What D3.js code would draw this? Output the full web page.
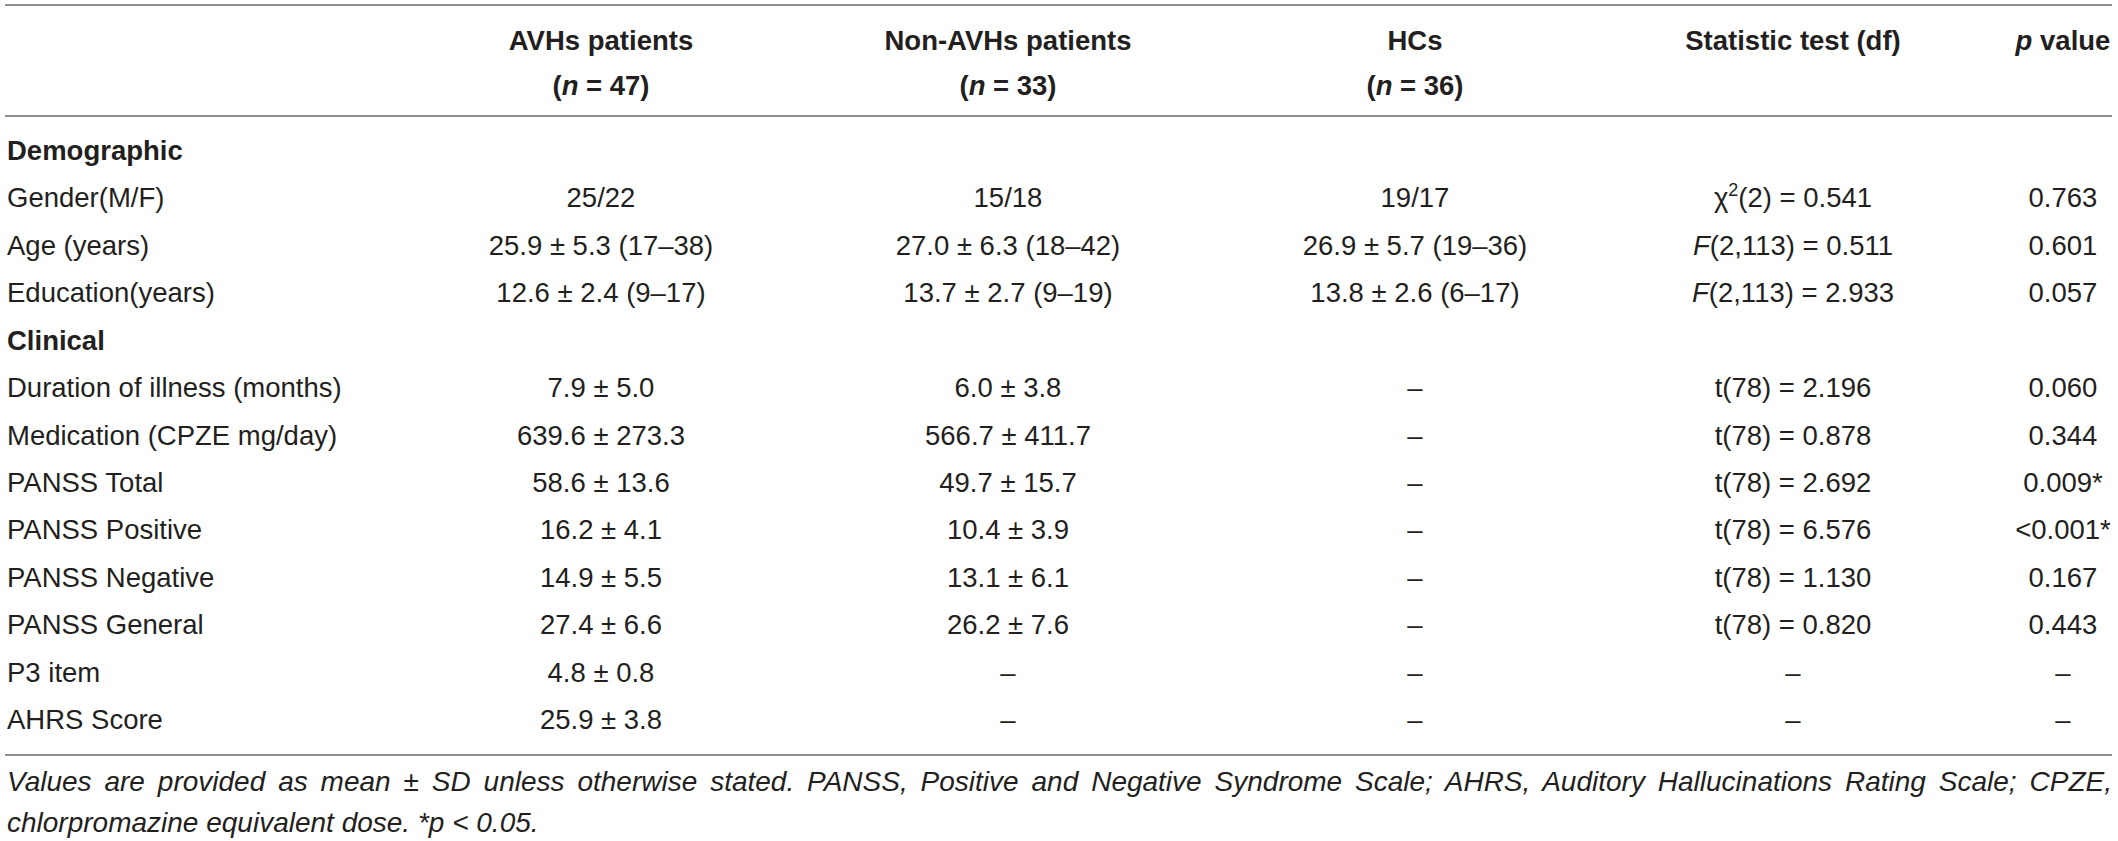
<!DOCTYPE html>
<html>
<head>
<meta charset="utf-8">
<script src="https://cdn.jsdelivr.net/npm/d3@7"></script>
<style>
  body { margin: 0; background: #fff; }
  svg { display: block; font-family: "Liberation Sans", Arial, sans-serif; }
  .cell { font-size: 27.5px; fill: #231f20; }
  .head { font-size: 27.5px; font-weight: bold; fill: #231f20; }
  .section { font-size: 27.5px; font-weight: bold; fill: #231f20; }
  .note { font-size: 28px; font-style: italic; fill: #231f20; }
  .rule { stroke: #8f8f8f; stroke-width: 2; }
</style>
</head>
<body>
<div id="table"></div>
<script>
// table content
const headers = ["AVHs patients", "Non-AVHs patients", "HCs", "Statistic test (df)", "p value"];
const groupN = [47, 33, 36, null, null];
const rowLabels = ["Demographic", "Gender(M/F)", "Age (years)", "Education(years)", "Clinical",
  "Duration of illness (months)", "Medication (CPZE mg/day)", "PANSS Total", "PANSS Positive",
  "PANSS Negative", "PANSS General", "P3 item", "AHRS Score"];
const sectionRows = ["Demographic", "Clinical"];
const avhs = ["", "25/22", "25.9 ± 5.3 (17–38)", "12.6 ± 2.4 (9–17)", "", "7.9 ± 5.0", "639.6 ± 273.3",
  "58.6 ± 13.6", "16.2 ± 4.1", "14.9 ± 5.5", "27.4 ± 6.6", "4.8 ± 0.8", "25.9 ± 3.8"];
const nonAvhs = ["", "15/18", "27.0 ± 6.3 (18–42)", "13.7 ± 2.7 (9–19)", "", "6.0 ± 3.8", "566.7 ± 411.7",
  "49.7 ± 15.7", "10.4 ± 3.9", "13.1 ± 6.1", "26.2 ± 7.6", "–", "–"];
const hcs = ["", "19/17", "26.9 ± 5.7 (19–36)", "13.8 ± 2.6 (6–17)", "", "–", "–", "–", "–", "–", "–", "–", "–"];
const statTest = ["", "χ2(2) = 0.541", "F(2,113) = 0.511", "F(2,113) = 2.933", "", "t(78) = 2.196",
  "t(78) = 0.878", "t(78) = 2.692", "t(78) = 6.576", "t(78) = 1.130", "t(78) = 0.820", "–", "–"];
const pValues = ["", "0.763", "0.601", "0.057", "", "0.060", "0.344", "0.009*", "<0.001*", "0.167",
  "0.443", "–", "–"];
const footnote = [
  "Values are provided as mean ± SD unless otherwise stated. PANSS, Positive and Negative Syndrome Scale; AHRS, Auditory Hallucinations Rating Scale; CPZE,",
  "chlorpromazine equivalent dose. *p < 0.05."
];

const width = 2118, height = 841;
const left = 7, right = 2112;

const svg = d3.select("#table")
  .append("svg")
  .attr("width", width)
  .attr("height", height);

// column centres
const xCol = d3.scaleOrdinal()
  .domain(headers)
  .range([601, 1008, 1415, 1793, 2063]);

// row positions (text baseline)
const yRow = d3.scaleLinear()
  .domain([0, rowLabels.length - 1])
  .range([160, 729]);

// horizontal rules
svg.selectAll("line.rule")
  .data([5, 116, 755])
  .join("line")
    .attr("class", "rule")
    .attr("x1", left - 2)
    .attr("x2", right)
    .attr("y1", d => d)
    .attr("y2", d => d);

// header, two lines
const head = svg.selectAll("text.head")
  .data(headers)
  .join("text")
    .attr("class", "head")
    .attr("text-anchor", "middle")
    .attr("x", d => xCol(d))
    .attr("y", 50);
head.each(function(d) {
  const t = d3.select(this);
  if (d === "p value") {
    t.append("tspan").attr("font-style", "italic").text("p");
    t.append("tspan").text(" value");
  } else {
    t.text(d);
  }
});

svg.selectAll("text.headn")
  .data(headers.filter((d, i) => groupN[i] !== null))
  .join("text")
    .attr("class", "head headn")
    .attr("text-anchor", "middle")
    .attr("x", d => xCol(d))
    .attr("y", 95)
    .each(function(d) {
      const t = d3.select(this);
      t.append("tspan").text("(");
      t.append("tspan").attr("font-style", "italic").text("n");
      t.append("tspan").text(" = " + groupN[headers.indexOf(d)] + ")");
    });

// row labels
svg.selectAll("text.label")
  .data(rowLabels)
  .join("text")
    .attr("class", d => sectionRows.includes(d) ? "section label" : "cell label")
    .attr("x", left)
    .attr("y", (d, i) => yRow(i))
    .text(d => d);

// plain value columns
const columns = [avhs, nonAvhs, hcs];
columns.forEach((col, c) => {
  svg.append("g")
    .selectAll("text")
    .data(col)
    .join("text")
      .attr("class", "cell")
      .attr("text-anchor", "middle")
      .attr("x", xCol(headers[c]))
      .attr("y", (d, i) => yRow(i))
      .text(d => d);
});

// statistic test column with italic F and superscript 2
svg.append("g")
  .selectAll("text")
  .data(statTest)
  .join("text")
    .attr("class", "cell")
    .attr("text-anchor", "middle")
    .attr("x", xCol(headers[3]))
    .attr("y", (d, i) => yRow(i))
    .each(function(d) {
      const t = d3.select(this);
      if (d.startsWith("F")) {
        t.append("tspan").attr("font-style", "italic").text("F");
        t.append("tspan").text(d.slice(1));
      } else if (d.startsWith("χ2")) {
        t.append("tspan").text("χ");
        t.append("tspan").attr("font-size", "18px").attr("dy", -11).text("2");
        t.append("tspan").attr("dy", 11).text(d.slice(2));
      } else {
        t.text(d);
      }
    });

// p value column
svg.append("g")
  .selectAll("text")
  .data(pValues)
  .join("text")
    .attr("class", "cell")
    .attr("text-anchor", "middle")
    .attr("x", xCol(headers[4]))
    .attr("y", (d, i) => yRow(i))
    .text(d => d);

// footnote, first line justified
const notes = svg.selectAll("text.note")
  .data(footnote)
  .join("text")
    .attr("class", "note")
    .attr("x", left)
    .attr("y", (d, i) => 791 + i * 41)
    .text(d => d);

notes.filter((d, i) => i === 0).each(function(d) {
  const len = this.getComputedTextLength();
  const gaps = d.split(" ").length - 1;
  d3.select(this).attr("word-spacing", (right - left - len) / gaps);
});
</script>
</body>
</html>
